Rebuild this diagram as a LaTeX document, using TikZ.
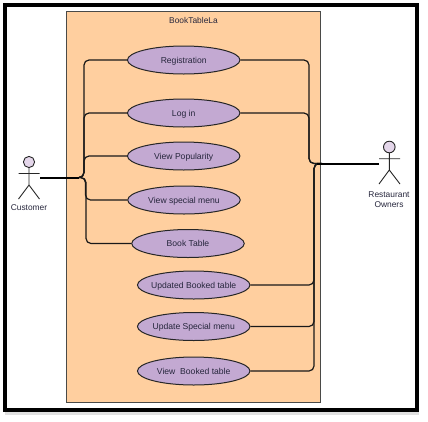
\documentclass[tikz,border=0pt]{standalone}
\usepackage{fontspec}
\setmainfont{Liberation Sans}
\usetikzlibrary{shapes.geometric}
\definecolor{sysfill}{HTML}{FFCF9F}
\definecolor{sysline}{HTML}{4A4A48}
\definecolor{usefill}{HTML}{C3A9D2}
\definecolor{headfill}{HTML}{E4D6EA}
\definecolor{txt}{HTML}{26263C}
\newcommand{\uctext}[1]{\raisebox{-3pt}[0pt][0pt]{\makebox[0pt]{#1}}}
\tikzset{
  usecase/.style={draw=black!85,fill=usefill,ellipse,line width=1pt,minimum width=112.5pt,minimum height=28pt,inner sep=0pt,text=txt,font=\fontsize{8.6}{10}\selectfont},
  lnk/.style={draw=black!90,line width=1.2pt,rounded corners=5pt},
  trunk/.style={draw=black,line width=2pt},
  actor/.style={draw=black!85,line width=0.9pt},
  lbl/.style={text=txt,inner sep=0pt,font=\fontsize{8.4}{10}\selectfont,align=center},
}
\begin{document}
\begin{tikzpicture}[x=1pt,y=-1pt]
\useasboundingbox (0,0) rectangle (428,421);
\fill[black!12] (5,412) rectangle (419,415);
\draw[black,line width=4pt] (5,5) rectangle (417,410);
\draw[sysline,fill=sysfill,line width=1pt] (66.5,11) rectangle (320.7,402);
\node[lbl] (title) at (193.5,20.5) {BookTableLa};

\node[usecase] (reg)  at (183.7,60)  {\uctext{Registration}};
\node[usecase] (log)  at (183.7,113) {\uctext{Log in}};
\node[usecase] (pop)  at (183.7,156) {\uctext{View Popularity}};
\node[usecase] (spec) at (184,200) {\uctext{View special menu}};
\node[usecase] (book) at (188,243.5) {\uctext{Book Table}};
\node[usecase] (upb)  at (193.7,285) {\uctext{Updated Booked table}};
\node[usecase] (ups)  at (193.7,326.5) {\uctext{Update Special menu}};
\node[usecase] (vbt)  at (193.7,371) {\uctext{View\ \ Booked table}};

% Customer
\draw[actor,fill=headfill] (29,162) circle (5.6);
\draw[actor] (29,167.6) -- (29,185) (18.5,173.5) -- (39.5,173.5) (18.5,199) -- (29,185) -- (39.5,199);
\node[lbl] (cust) at (29,208) {Customer};
\coordinate (custhand) at (40,177.5);
\coordinate (jl) at (79,177.5);

% Restaurant Owners
\draw[actor,fill=headfill] (389.3,147) circle (5.8);
\draw[actor] (389.3,152.8) -- (389.3,170) (379,158.7) -- (400,158.7) (379,184) -- (389.3,170) -- (400,184);
\node[lbl] (own) at (389,199.5) {Restaurant\\[0.5pt]Owners};
\coordinate (ownhand) at (379,163.5);
\coordinate (jr) at (317,163.5);

% Left connectors
\draw[lnk] (reg.west) -- (84,60) -- (84,177.5) -- (jl);
\draw[lnk] (log.west) -- (84,113) -- (84,177.5) -- (jl);
\draw[lnk] (pop.west) -- (84,156) -- (84,177.5) -- (jl);
\draw[lnk] (spec.west) -- (85.5,200) -- (85.5,177.5) -- (jl);
\draw[lnk] (book.west) -- (86,243.5) -- (86,177.5) -- (jl);
\draw[trunk] (custhand) -- (jl);

% Right connectors
\draw[lnk] (reg.east) -- (309,60) -- (309,163.5) -- (jr);
\draw[lnk] (log.east) -- (309,113) -- (309,163.5) -- (jr);
\draw[lnk] (upb.east) -- (314,285) -- (314,163.5) -- (jr);
\draw[lnk] (ups.east) -- (314,326.5) -- (314,163.5) -- (jr);
\draw[lnk] (vbt.east) -- (314,371) -- (314,163.5) -- (jr);
\draw[trunk] (ownhand) -- (jr);
\end{tikzpicture}
\end{document}
